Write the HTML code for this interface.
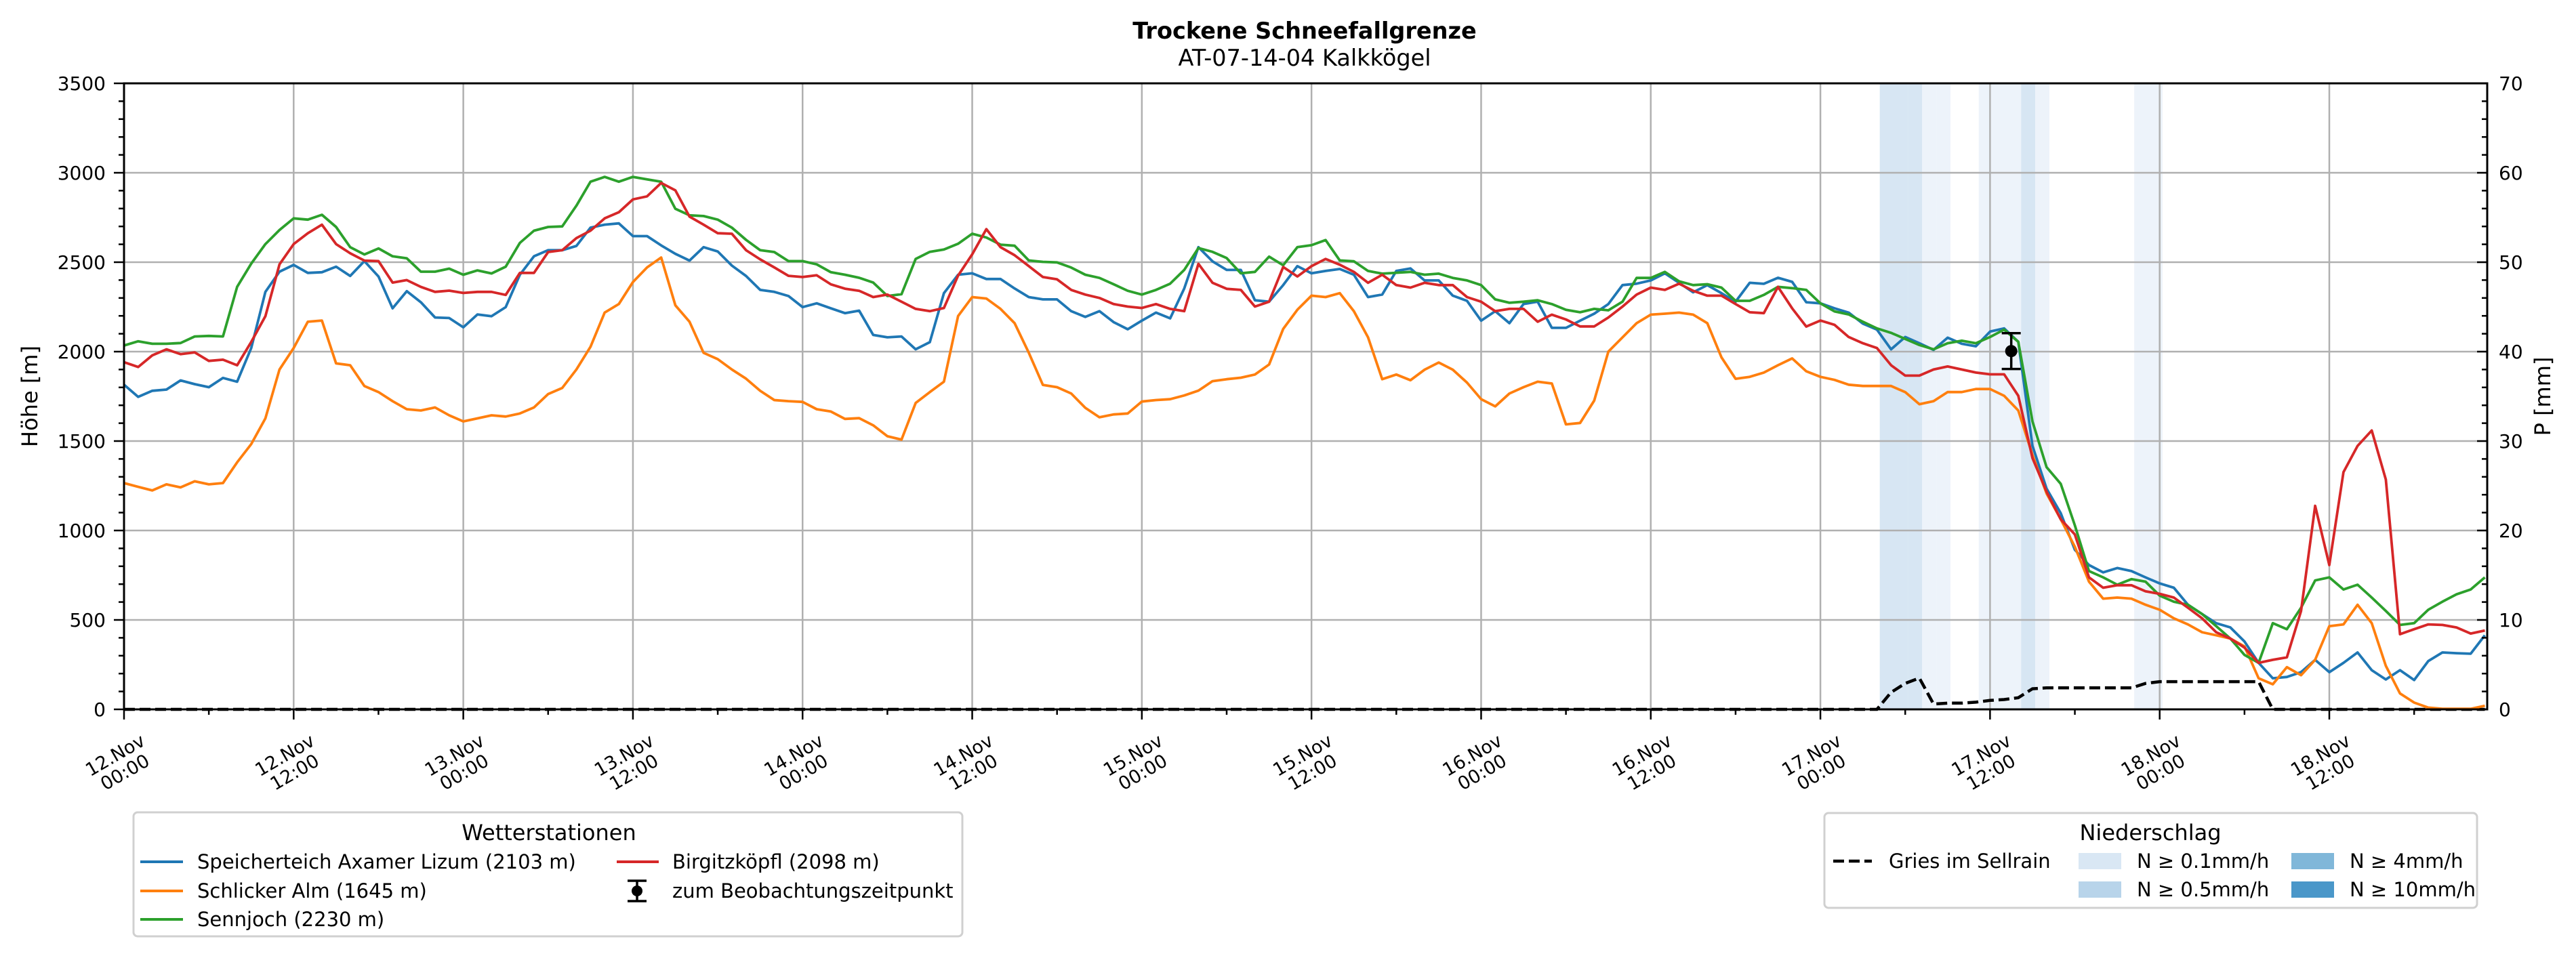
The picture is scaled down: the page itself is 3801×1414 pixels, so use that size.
<!DOCTYPE html>
<html><head><meta charset="utf-8"><style>
html,body{margin:0;padding:0;background:#fff;}
svg{display:block;font-family:"DejaVu Sans","Liberation Sans",sans-serif;}
</style></head><body>
<svg id="chart" width="3801" height="1414" viewBox="0 0 3801 1414" xmlns="http://www.w3.org/2000/svg">
<rect x="0" y="0" width="3801" height="1414" fill="#fff"/>
<text x="1925" y="57" text-anchor="middle" font-size="33.5" font-weight="bold">Trockene Schneefallgrenze</text>
<text x="1925" y="97" text-anchor="middle" font-size="33.5">AT-07-14-04 Kalkkögel</text>
<g id="bands"></g>
<g id="grid"></g>
<g id="series"></g>
<g id="axes"></g>
<text transform="translate(55,585) rotate(-90)" text-anchor="middle" font-size="32">Höhe [m]</text>
<text transform="translate(3763,585) rotate(-90)" text-anchor="middle" font-size="32">P [mm]</text>

<g>
<rect x="197" y="1199" width="1223" height="183" rx="6" fill="#fff" stroke="#d0d0d0" stroke-width="3"/>
<text x="810" y="1240" text-anchor="middle" font-size="32">Wetterstationen</text>
<g><line x1="207" y1="1272" x2="270" y2="1272" stroke="#1f77b4" stroke-width="4"/><text x="291" y="1282" font-size="29">Speicherteich Axamer Lizum (2103 m)</text></g>
<g><line x1="207" y1="1315" x2="270" y2="1315" stroke="#ff7f0e" stroke-width="4"/><text x="291" y="1325" font-size="29">Schlicker Alm (1645 m)</text></g>
<g><line x1="207" y1="1357" x2="270" y2="1357" stroke="#2ca02c" stroke-width="4"/><text x="291" y="1367" font-size="29">Sennjoch (2230 m)</text></g>
<g><line x1="910" y1="1272" x2="972" y2="1272" stroke="#d62728" stroke-width="4"/><text x="992" y="1282" font-size="29">Birgitzköpfl (2098 m)</text></g>
<g><line x1="940" y1="1300" x2="940" y2="1330" stroke="#000" stroke-width="3.5"/><line x1="926" y1="1300" x2="954" y2="1300" stroke="#000" stroke-width="3.5"/><line x1="926" y1="1330" x2="954" y2="1330" stroke="#000" stroke-width="3.5"/><circle cx="940" cy="1315" r="8" fill="#000"/><text x="992" y="1325" font-size="29">zum Beobachtungszeitpunkt</text></g>
</g>

<g>
<rect x="2692" y="1200" width="963" height="140" rx="6" fill="#fff" stroke="#d0d0d0" stroke-width="3"/>
<text x="3173" y="1240" text-anchor="middle" font-size="32">Niederschlag</text>
<g><line x1="2705" y1="1271" x2="2762" y2="1271" stroke="#000" stroke-width="4.5" stroke-dasharray="16,7"/><text x="2787" y="1281" font-size="29">Gries im Sellrain</text></g>
<g><rect x="3067" y="1259" width="63" height="24" fill="#d9e7f4"/><text x="3153" y="1281" font-size="29">N ≥ 0.1mm/h</text></g>
<g><rect x="3067" y="1301" width="63" height="24" fill="#b8d4ea"/><text x="3153" y="1323" font-size="29">N ≥ 0.5mm/h</text></g>
<g><rect x="3381" y="1259" width="63" height="24" fill="#80b7d9"/><text x="3467" y="1281" font-size="29">N ≥ 4mm/h</text></g>
<g><rect x="3381" y="1301" width="63" height="24" fill="#4a97c9"/><text x="3467" y="1323" font-size="29">N ≥ 10mm/h</text></g>
</g>
</svg>
<script>
// ---- data (hourly, hour 0 = 12.Nov 00:00) ----
const speicherteich = [1815,1747,1781,1788,1839,1818,1801,1853,1832,2020,2334,2447,2485,2440,2444,2475,2423,2506,2420,2242,2338,2276,2191,2188,2136,2208,2198,2249,2430,2533,2567,2567,2591,2693,2710,2717,2646,2646,2594,2547,2509,2584,2560,2481,2423,2345,2334,2311,2249,2270,2242,2215,2229,
2093,2080,2085,2013,2053,2327,2430,2438,2406,2406,2353,2305,2292,2292,2226,2194,2226,2165,2125,2173,2218,2186,2353,2584,2505,2457,2457,2287,2279,2372,2478,2438,2451,2462,2430,2305,2319,2451,2465,2398,2398,2313,2284,2173,2226,2159,2266,2279,2133,2133,2173,2212,2266,2372,2380,2398,2438,2385,2332,2372,2327,2279,2385,
2379,2413,2390,2276,2270,2242,2218,2157,2123,2013,2082,2047,2010,2078,2044,2030,2112,2130,2055,1473,1234,1097,892,807,766,790,773,738,704,680,585,533,482,458,379,260,174,181,208,277,208,260,318,219,167,219,164,270,318,314,311,414];
const schlicker = [1265,1244,1224,1258,1241,1275,1258,1265,1381,1483,1627,1900,2020,2167,2174,1934,1924,1808,1774,1723,1678,1671,1688,1644,1610,1627,1644,1637,1654,1688,1763,1797,1900,2027,2218,2266,2389,2471,2526,2259,2167,1993,1958,1900,1849,1781,1729,1723,1719,1678,1665,1624,
1628,1588,1527,1508,1713,1774,1832,2199,2305,2297,2239,2159,1994,1814,1801,1766,1686,1633,1649,1654,1721,1729,1734,1755,1782,1835,1846,1854,1872,1928,2127,2234,2313,2305,2327,2226,2080,1846,1872,1840,1899,1939,1899,1827,1734,1694,1766,1801,1832,1822,1593,1601,1726,2000,2080,2159,2207,2212,2218,2207,2159,1968,1848,1859,
1883,1924,1962,1890,1859,1842,1815,1808,1808,1808,1774,1706,1723,1774,1774,1791,1791,1753,1671,1422,1207,1063,909,714,619,625,619,585,557,509,475,431,414,396,352,174,140,236,191,277,465,475,585,482,243,89,38,10,3,3,3,20];
const sennjoch = [2034,2058,2044,2044,2048,2085,2088,2085,2362,2492,2601,2680,2745,2738,2765,2697,2584,2543,2577,2533,2522,2447,2447,2464,2430,2454,2437,2475,2608,2676,2697,2700,2816,2950,2977,2950,2977,2963,2950,2799,2762,2758,2738,2693,2625,2567,2557,2506,2506,2488,2444,2430,2413,2386,2311,2321,
2518,2558,2571,2603,2659,2638,2598,2592,2510,2502,2499,2470,2430,2412,2377,2340,2319,2345,2380,2457,2579,2558,2523,2438,2446,2531,2483,2584,2595,2624,2510,2505,2451,2436,2441,2446,2430,2436,2412,2398,2372,2292,2273,2279,2287,2266,2234,2220,2239,2231,2279,2412,2412,2446,2393,2372,2377,2358,2284,2284,
2317,2362,2355,2345,2270,2225,2208,2167,2130,2105,2071,2037,2013,2047,2061,2047,2082,2123,2055,1610,1354,1261,1029,773,738,697,728,714,636,602,585,533,465,396,304,260,482,448,568,721,738,670,697,625,550,472,482,557,602,643,670,738];
const birgitz = [1941,1914,1979,2013,1986,1996,1948,1955,1924,2054,2198,2488,2601,2662,2710,2601,2550,2509,2506,2386,2400,2362,2334,2341,2328,2334,2334,2317,2440,2440,2557,2567,2635,2676,2745,2779,2851,2868,2943,2902,2755,2710,2662,2659,2567,2516,2471,2424,2417,2427,2376,2352,
2340,2305,2319,2279,2239,2226,2244,2425,2544,2685,2584,2539,2478,2417,2404,2345,2319,2300,2266,2252,2244,2266,2239,2226,2491,2385,2351,2345,2252,2279,2473,2420,2478,2518,2486,2446,2385,2430,2372,2358,2385,2372,2372,2305,2279,2226,2239,2239,2167,2207,2180,2141,2141,2191,2252,2319,2358,2345,2380,2340,2313,2313,2266,2220,
2215,2362,2242,2140,2174,2150,2082,2047,2020,1924,1866,1866,1900,1917,1900,1883,1873,1873,1753,1405,1217,1063,978,738,680,694,694,660,646,625,568,509,431,396,345,260,277,291,550,1138,807,1326,1473,1559,1285,420,448,475,472,458,424,441];
const griesHours = [0,124,125,126,127,128,129,130,131,132,133,134,135,136,137,138,139,140,141,142,143,144,145,146,147,148,149,150,151,152,167];
const griesMm = [0,0,1.9,2.9,3.5,0.6,0.7,0.7,0.8,1.0,1.1,1.3,2.3,2.4,2.4,2.4,2.4,2.4,2.4,2.4,2.9,3.1,3.1,3.1,3.1,3.1,3.1,3.1,3.1,0,0];
const bandHours = [124,125,126,127,128,131,132,133,134,135,142,143];
const bandLevels = [2,2,2,1,1,1,1,1,2,1,1,1];
const obsHour = [133.5];
const obsValue = [2003];
const obsErr = [100];
const xTickLabels = ["12.Nov|00:00","12.Nov|12:00","13.Nov|00:00","13.Nov|12:00","14.Nov|00:00","14.Nov|12:00","15.Nov|00:00","15.Nov|12:00","16.Nov|00:00","16.Nov|12:00","17.Nov|00:00","17.Nov|12:00","18.Nov|00:00","18.Nov|12:00"];
const yTicks = [0,500,1000,1500,2000,2500,3000,3500];
const y2Ticks = [0,10,20,30,40,50,60,70];

// ---- scales ----
const L=183,R=3670,T=123,B=1047,HMAX=167.17;
const xS=h=>L+(R-L)*h/HMAX;
const yS=v=>B-(B-T)*v/3500;
const y2S=v=>B-(B-T)*v/70;
const NS="http://www.w3.org/2000/svg";
function mk(tag,attrs,parent){const e=document.createElementNS(NS,tag);for(const k in attrs)e.setAttribute(k,attrs[k]);parent.appendChild(e);return e;}
const bands=document.getElementById('bands'),grid=document.getElementById('grid'),series=document.getElementById('series'),axes=document.getElementById('axes');

bandHours.forEach((h,i)=>{
  const r=mk('rect',{x:xS(h+0.2),y:T,width:xS(h+1.2)-xS(h+0.2),height:B-T,fill:bandLevels[i]===2?'#d7e6f3':'#edf3fa'},bands);
  
  
});
yTicks.forEach(v=>{
  const g=mk('line',{x1:L,x2:R,y1:yS(v),y2:yS(v),stroke:'#b0b0b0','stroke-width':2.5},grid);
  
  
});
xTickLabels.forEach((t,i)=>{
  const g=mk('line',{x1:xS(i*12),x2:xS(i*12),y1:T,y2:B,stroke:'#b0b0b0','stroke-width':2.5},grid);
  
  
});

function line(arr,color,name){
  const d=arr.map((v,i)=>(i?'L':'M')+xS(i).toFixed(1)+','+yS(v).toFixed(1)).join('');
  const p=mk('path',{d:d,fill:'none',stroke:color,'stroke-width':3.8,'stroke-linejoin':'round'},series);
  
  
}
{
  const d=griesHours.map((h,i)=>(i?'L':'M')+xS(h).toFixed(1)+','+y2S(griesMm[i]).toFixed(1)).join('');
  const p=mk('path',{d:d,fill:'none',stroke:'#000','stroke-width':4.5,'stroke-dasharray':'16,7'},series);
  
  
}
line(speicherteich,'#1f77b4','speicherteich-line');
line(schlicker,'#ff7f0e','schlicker-alm-line');
line(sennjoch,'#2ca02c','sennjoch-line');
line(birgitz,'#d62728','birgitzkoepfl-line');
obsHour.forEach((h,i)=>{
  const g=mk('g',{},series);
  
  
  const x=xS(h),yt=yS(obsValue[i]+obsErr[i]),yb=yS(obsValue[i]-obsErr[i]);
  mk('line',{x1:x,x2:x,y1:yt,y2:yb,stroke:'#000','stroke-width':3.5},g);
  mk('line',{x1:x-14,x2:x+14,y1:yt,y2:yt,stroke:'#000','stroke-width':3.5},g);
  mk('line',{x1:x-14,x2:x+14,y1:yb,y2:yb,stroke:'#000','stroke-width':3.5},g);
  mk('circle',{cx:x,cy:yS(obsValue[i]),r:9,fill:'#000'},g);
});

const fr=mk('rect',{x:L,y:T,width:R-L,height:B-T,fill:'none',stroke:'#000','stroke-width':3},axes);


for(let v=0;v<=3500;v+=100){
  const maj=v%500===0;
  mk('line',{x1:L,x2:L-(maj?15:8),y1:yS(v),y2:yS(v),stroke:'#000','stroke-width':2.5},axes);
}
yTicks.forEach(v=>{
  const t=mk('text',{x:L-27,y:yS(v)+10,'text-anchor':'end','font-size':28},axes);
  t.textContent=String(v);
  
  
});
for(let v=0;v<=70;v+=2){
  const maj=v%10===0;
  mk('line',{x1:R,x2:R-(maj?15:8),y1:y2S(v),y2:y2S(v),stroke:'#000','stroke-width':2.5},axes);
}
y2Ticks.forEach(v=>{
  const t=mk('text',{x:R+17,y:y2S(v)+10,'font-size':28},axes);
  t.textContent=String(v);
  
  
});
for(let h=0;h<=HMAX;h+=6){
  const maj=h%12===0;
  mk('line',{x1:xS(h),x2:xS(h),y1:B,y2:B+(maj?15:8),stroke:'#000','stroke-width':2.5},axes);
}
xTickLabels.forEach((lab,i)=>{
  const parts=lab.split('|');
  const g=mk('g',{transform:'translate('+(xS(i*12)-6)+',1127) rotate(-30)'},axes);
  
  
  const t1=mk('text',{x:0,y:-5,'text-anchor':'middle','font-size':27},g);t1.textContent=parts[0];
  const t2=mk('text',{x:0,y:24,'text-anchor':'middle','font-size':27},g);t2.textContent=parts[1];
});
</script>
</body></html>
